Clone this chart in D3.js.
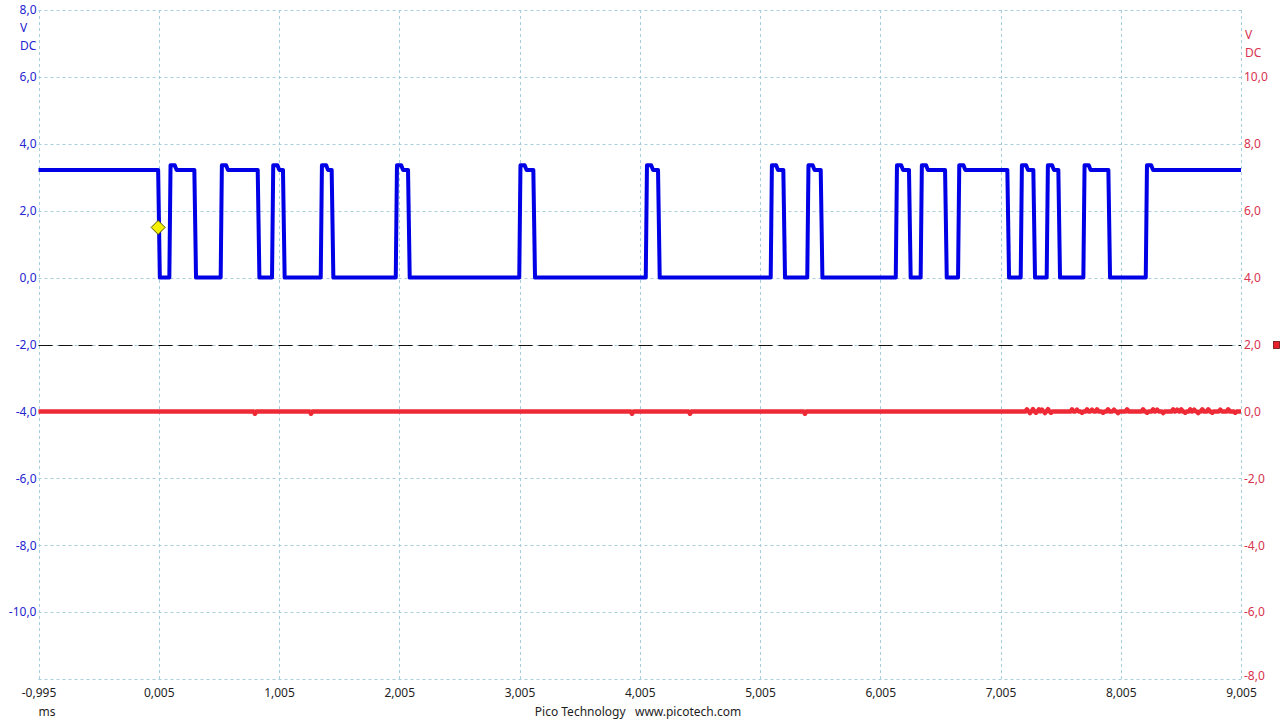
<!DOCTYPE html>
<html>
<head>
<meta charset="utf-8">
<script src="https://cdn.jsdelivr.net/npm/d3@7"></script>
<style>
  html, body { margin: 0; padding: 0; background: #ffffff; }
  svg { display: block; font-family: "Noto Sans", "DejaVu Sans", sans-serif; }
</style>
</head>
<body>
<svg id="chart" width="1280" height="720"></svg>
<script>
// ---------------- DATA ----------------
const xTicks = [-0.995, 0.005, 1.005, 2.005, 3.005, 4.005, 5.005, 6.005, 7.005, 8.005, 9.005];
const leftTicks = [8, 6, 4, 2, 0, -2, -4, -6, -8, -10];
const leftGrid = [8, 6, 4, 2, 0, -2, -4, -6, -8, -10, -12];
const rightTicks = [10, 8, 6, 4, 2, 0, -2, -4, -6, -8];

// Channel A (blue): edge times in ms, alternating falling / rising, starting with a falling edge
const blueEdges = [0.000, 0.093, 0.301, 0.520, 0.828, 0.947, 1.038, 1.352, 1.443, 1.976,
                   2.078, 3.003, 3.120, 4.055, 4.157, 5.094, 5.199, 5.398, 5.510, 6.134,
                   6.244, 6.341, 6.544, 6.652, 7.062, 7.173, 7.278, 7.389, 7.486, 7.694,
                   7.902, 8.213];
const blueHigh = 3.22;
const bluePeak = 3.36;
const blueLow = 0.0;

// Channel B (red): flat at 0 V with small glitches
const redLevel = 0.0;
const redGlitchTimes = [0.805, 1.271, 3.941, 4.423, 5.379,
  7.225, 7.250, 7.275, 7.300, 7.325, 7.350, 7.375, 7.400, 7.425,
  7.600, 7.641, 7.683, 7.725, 7.766, 7.808, 7.858, 7.899, 7.949, 7.983, 8.058,
  8.191, 8.224, 8.274, 8.308, 8.358, 8.441, 8.474, 8.508, 8.541, 8.583, 8.616,
  8.649, 8.683, 8.733, 8.766, 8.833, 8.899, 8.957];
const redGlitchAmps = [-0.07, -0.07, -0.07, -0.07, -0.07,
  0.06, -0.05, 0.07, -0.04, 0.06, 0.05, -0.05, 0.07, -0.04,
  0.06, 0.05, -0.04, 0.06, 0.05, 0.06, -0.04, 0.06, 0.05, -0.05, 0.06,
  0.06, -0.04, 0.06, 0.05, -0.05, 0.06, 0.05, 0.06, -0.04, 0.06, 0.05,
  -0.05, 0.06, 0.06, -0.04, 0.05, 0.06, -0.04];

const triggerTime = 0.0;
const triggerLevel = 1.5;
const thresholdRight = 2.0;   // dashed marker line on the right axis

// ---------------- LAYOUT ----------------
const svg = d3.select("#chart");
const W = 1280, H = 720;
const pL = 38.5, pR = 1241, pT = 10, pB = 679;

const x = d3.scaleLinear().domain([-0.995, 9.005]).range([pL, pR]);
const yL = d3.scaleLinear().domain([-12, 8]).range([pB, pT]);
const yR = d3.scaleLinear().domain([-8, 12]).range([pB, pT]);
const loc = d3.formatLocale({decimal: ",", thousands: ".", grouping: [3], currency: ["", ""], minus: "-"});
const comma = f => loc.format(f);

const BLUE_TXT = "#2424d0", RED_TXT = "#d8324f", DARK = "#1e1e1e";

svg.append("rect").attr("width", W).attr("height", H).attr("fill", "#ffffff");

// grid
const grid = svg.append("g").attr("stroke", "#a8cfdc").attr("stroke-width", 1)
  .attr("stroke-dasharray", "3,3").attr("fill", "none");
grid.selectAll("line.h").data(leftGrid).join("line").attr("class", "h")
  .attr("x1", pL).attr("x2", pR)
  .attr("y1", d => Math.round(yL(d)) + 0.5).attr("y2", d => Math.round(yL(d)) + 0.5);
grid.selectAll("line.v").data(xTicks).join("line").attr("class", "v")
  .attr("y1", pT).attr("y2", pB)
  .attr("x1", d => Math.round(x(d)) + 0.5).attr("x2", d => Math.round(x(d)) + 0.5);

// axes
const axL = svg.append("g").attr("transform", `translate(${pL - 2},0)`)
  .call(d3.axisLeft(yL).tickValues(leftTicks).tickSize(0).tickPadding(0).tickFormat(comma(".1f")));
axL.select(".domain").remove();
axL.selectAll("text").attr("fill", BLUE_TXT).attr("font-size", 12)
  .attr("font-family", "'Noto Sans', sans-serif");

const axR = svg.append("g").attr("transform", `translate(${pR + 3},0)`)
  .call(d3.axisRight(yR).tickValues(rightTicks).tickSize(0).tickPadding(0).tickFormat(comma(".1f")));
axR.select(".domain").remove();
axR.selectAll("text").attr("fill", RED_TXT).attr("font-size", 12)
  .attr("font-family", "'Noto Sans', sans-serif");
axR.selectAll("text").filter(d => d === -8).attr("y", -3);

const axB = svg.append("g").attr("transform", `translate(0,${pB + 9})`)
  .call(d3.axisBottom(x).tickValues(xTicks).tickSize(0).tickPadding(0).tickFormat(comma(".3f")));
axB.select(".domain").remove();
axB.selectAll("text").attr("fill", DARK).attr("font-size", 12)
  .attr("font-family", "'Noto Sans', sans-serif");

// unit labels
const unit = svg.append("g").attr("font-size", 12);
unit.append("text").attr("x", 20).attr("y", 32).attr("fill", BLUE_TXT).text("V");
unit.append("text").attr("x", 20).attr("y", 50).attr("fill", BLUE_TXT).text("DC");
unit.append("text").attr("x", 1245).attr("y", 39).attr("fill", RED_TXT).text("V");
unit.append("text").attr("x", 1245).attr("y", 57).attr("fill", RED_TXT).text("DC");
unit.append("text").attr("x", 47).attr("y", 716).attr("text-anchor", "middle").attr("fill", DARK).text("ms");
unit.append("text").attr("x", 638).attr("y", 716).attr("text-anchor", "middle").attr("fill", DARK)
  .attr("xml:space", "preserve").text("Pico Technology   www.picotech.com");

// threshold dashed line
svg.append("line").attr("x1", pL).attr("x2", pR)
  .attr("y1", Math.round(yR(thresholdRight)) + 0.5).attr("y2", Math.round(yR(thresholdRight)) + 0.5)
  .attr("stroke", "#111").attr("stroke-width", 1).attr("stroke-dasharray", "14,6");
svg.append("rect").attr("x", 1273.5).attr("y", yR(thresholdRight) - 3).attr("width", 6).attr("height", 7)
  .attr("fill", "#e8202c").attr("stroke", "#6a1010").attr("stroke-width", 0.8);

// red trace
const redPts = [[x.domain()[0], redLevel]];
redGlitchTimes.forEach((t, i) => {
  redPts.push([t - 0.012, redLevel], [t, redLevel + redGlitchAmps[i]], [t + 0.012, redLevel]);
});
redPts.push([x.domain()[1], redLevel]);
svg.append("path").datum(redPts)
  .attr("d", d3.line().x(d => x(d[0])).y(d => yR(d[1])))
  .attr("fill", "none").attr("stroke", "#ee2a36").attr("stroke-width", 4.5).attr("stroke-linejoin", "round");

// blue trace
const bluePts = [[x.domain()[0], blueHigh]];
blueEdges.forEach((t, i) => {
  if (i % 2 === 0) {          // falling edge
    bluePts.push([t, blueHigh], [t + 0.014, blueLow]);
  } else {                     // rising edge with overshoot
    bluePts.push([t, blueLow], [t + 0.01, bluePeak], [t + 0.045, bluePeak], [t + 0.06, blueHigh]);
  }
});
bluePts.push([x.domain()[1], blueHigh]);
svg.append("path").datum(bluePts)
  .attr("d", d3.line().x(d => x(d[0])).y(d => yL(d[1])))
  .attr("fill", "none").attr("stroke", "#0000e6").attr("stroke-width", 4).attr("stroke-linejoin", "round");

// trigger marker
const tx = x(triggerTime), ty = yL(triggerLevel);
svg.append("path")
  .attr("d", `M${tx},${ty - 7}L${tx + 7},${ty}L${tx},${ty + 7}L${tx - 7},${ty}Z`)
  .attr("fill", "#f4f000").attr("stroke", "#555500").attr("stroke-width", 1);
</script>
</body>
</html>
